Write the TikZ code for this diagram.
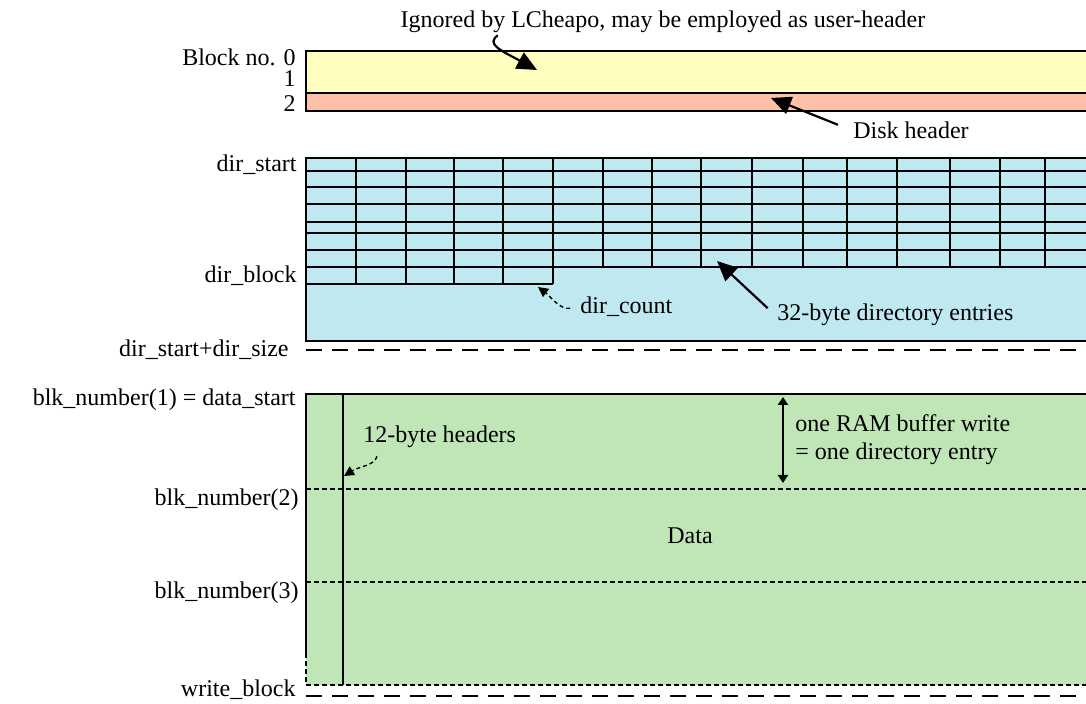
\documentclass[tikz,border=0pt]{standalone}
\usepackage{fontspec}
\setmainfont{Liberation Serif}
\usetikzlibrary{arrows.meta,calc}
\definecolor{hdryellow}{HTML}{FFFFC0}
\definecolor{hdrsalmon}{HTML}{FFC0A8}
\definecolor{dirblue}{HTML}{C0E8F0}
\definecolor{datagreen}{HTML}{C0E6B8}
\begin{document}
\begin{tikzpicture}[x=0.5pt,y=-0.5pt,font=\fontsize{12}{14}\selectfont,inner sep=1pt,
  frame/.style={draw,line width=0.8pt},
  bigarrow/.style={line width=1.1pt,-{Triangle[length=10pt,width=9pt]}},
  smallarrow/.style={line width=0.7pt,dash pattern=on 2pt off 1.5pt,-{Triangle[length=5pt,width=5pt]}},
  finedash/.style={line width=0.7pt,dash pattern=on 2.5pt off 1.5pt},
  longdash/.style={line width=0.9pt,dash pattern=on 8pt off 5pt}]
\clip (0,0) rectangle (1086,704);
\filldraw[frame,fill=hdryellow] (306,51) rectangle (1100,93);
\filldraw[frame,fill=hdrsalmon] (306,93) rectangle (1100,111);
\draw[line width=1.4pt] (306,93) -- (1100,93);
\node[anchor=east] (blk0) at (298,57) {Block no. 0};
\node[anchor=east] (blk1) at (298,79) {1};
\node[anchor=east] (blk2) at (298,104) {2};
\node (ignored) at (663,22) {Ignored by LCheapo, may be employed as user-header};
\node[anchor=west] (diskhdr) at (851,130) {Disk header};
\coordinate (igntip) at (537,70);
\coordinate (disktip) at (771,98);
\draw[bigarrow] ($(ignored.south west)!0.188!(ignored.south east)$) .. controls (486,44) and (500,50) .. (igntip);
\draw[bigarrow,shorten <=7pt] (diskhdr.west) -- (disktip);
\filldraw[frame,fill=dirblue] (306,158) rectangle (1100,341);
\foreach \y in {171,187,204,222,233,250,267}
  \draw[frame] (306,\y) -- (1100,\y);
\draw[frame] (306,284) -- (553,284);
\foreach \x in {356,406,454,503,553}
  \draw[frame] (\x,158) -- (\x,284);
\foreach \x in {603,652,701,752,803,847,897,950,1000,1045}
  \draw[frame] (\x,158) -- (\x,267);
\node[anchor=east] (dirstart) at (299,165) {dir\_start};
\node[anchor=east] (dirblock) at (299,276) {dir\_block};
\node[anchor=east] (dirend) at (291,350) {dir\_start+dir\_size};
\draw[longdash] (306,350) -- (1100,350);
\node[anchor=west] (dircount) at (578,307) {dir\_count};
\node[anchor=west] (direntries) at (775,315) {32-byte directory entries};
\coordinate (counttip) at (538,287);
\coordinate (entrytip) at (717,261);
\draw[smallarrow,shorten <=4pt] (dircount.west) .. controls (560,310) and (550,296) .. (counttip);
\draw[bigarrow,shorten <=5pt] (direntries.west) -- (entrytip);
\fill[datagreen] (306,394) rectangle (1100,685);
\draw[frame] (306,653) -- (306,394) -- (1100,394);
\draw[finedash] (306,653) -- (306,685) -- (1100,685);
\draw[finedash] (306,489) -- (1100,489);
\draw[finedash] (306,582) -- (1100,582);
\draw[frame] (343,394) -- (343,685);
\draw[longdash] (306,696) -- (1100,696);
\node[anchor=east] (blknum1) at (298,400) {blk\_number(1) = data\_start};
\node[anchor=east] (blknum2) at (301,500) {blk\_number(2)};
\node[anchor=east] (blknum3) at (301,593) {blk\_number(3)};
\node[anchor=east] (writeblk) at (298,690) {write\_block};
\node[anchor=west] (hdrs12) at (361,437) {12-byte headers};
\node[anchor=west,align=left] (rambuf) at (793,440) {one RAM buffer write\\= one directory entry};
\node (data) at (690,536) {Data};
\coordinate (hdrtip) at (344,476);
\coordinate (buftop) at (783,397);
\coordinate (bufbot) at (783,483);
\draw[smallarrow] ([xshift=8pt,yshift=-3pt]hdrs12.south west) .. controls (374,466) and (360,466) .. (hdrtip);
\draw[line width=1pt,{Triangle[length=4pt,width=5pt]}-{Triangle[length=4pt,width=5pt]}] (buftop) -- (bufbot);
\end{tikzpicture}
\end{document}
